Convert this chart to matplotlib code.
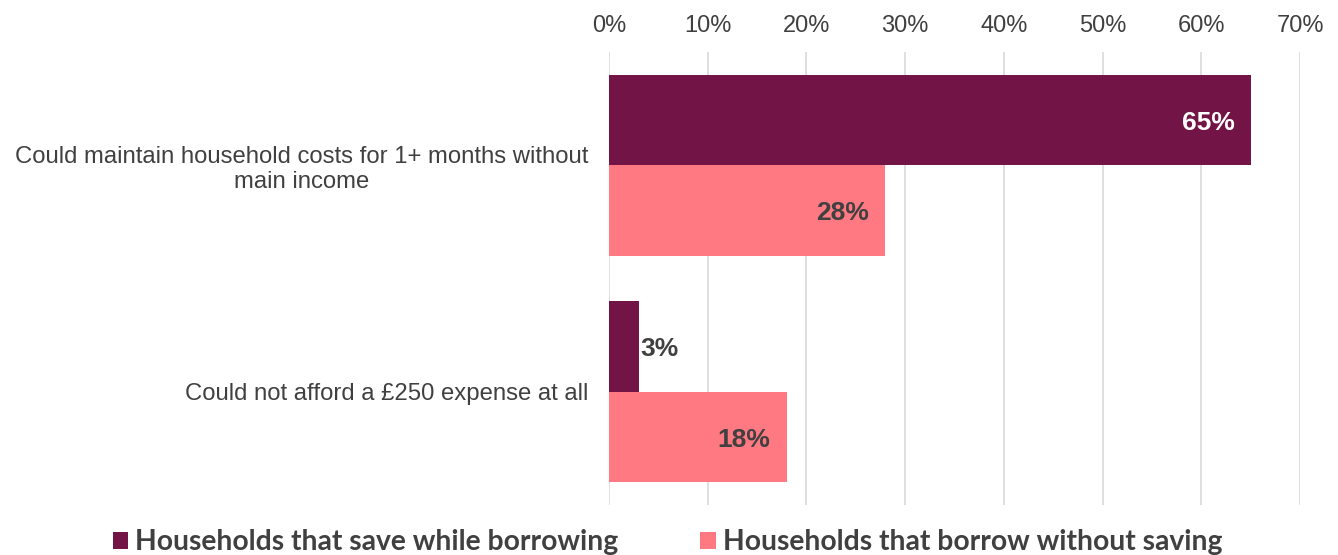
import matplotlib
matplotlib.use("Agg")
import matplotlib.pyplot as plt
from matplotlib.patches import Patch
import numpy as np

categories = [
    "Could maintain household costs for 1+ months without\nmain income",
    "Could not afford a £250 expense at all",
]
series_names = ["Households that save while borrowing",
                "Households that borrow without saving"]
save_borrow = [65, 3]
borrow_only = [28, 18]
x_ticks = [0, 10, 20, 30, 40, 50, 60, 70]

dark = "#731447"
pink = "#FF7983"
text_col = "#404040"

plt.rcParams["font.family"] = ["Liberation Sans", "DejaVu Sans"]

fig = plt.figure(figsize=(13.38, 5.55), dpi=100)
ax = fig.add_axes([0.4552, 0.0901, 0.5164, 0.8162])

y = np.arange(len(categories))
h = 0.4
b1 = ax.barh(y - h / 2, save_borrow, height=h, color=dark, zorder=3)
b2 = ax.barh(y + h / 2, borrow_only, height=h, color=pink, zorder=3)

ax.set_xlim(0, 70)
ax.set_ylim(1.5, -0.5)
ax.set_xticks(x_ticks)
ax.set_xticklabels([f"{t}%" for t in x_ticks], fontsize=17, color=text_col)
ax.xaxis.tick_top()
ax.tick_params(axis="x", length=0, pad=11)
ax.set_yticks(y)
ax.set_yticklabels(categories, fontsize=17.2, color=text_col,
                   multialignment="center", linespacing=1.2)
ax.tick_params(axis="y", length=0, pad=15)
ax.grid(axis="x", color="#D9D9D9", linewidth=1.2, zorder=0)
for s in ax.spines.values():
    s.set_visible(False)

# value labels, nudged slightly below the bar centre
lab_kw = dict(va="center", fontsize=19, fontweight="bold", zorder=4,
              textcoords="offset points")
for bar, v in zip(b1, save_borrow):
    cy = bar.get_y() + bar.get_height() / 2
    if v >= 10:
        ax.annotate(f"{v}%", (v, cy), xytext=(-11, -2), ha="right",
                    color="white", **lab_kw)
    else:
        ax.annotate(f"{v}%", (v, cy), xytext=(1, -2), ha="left",
                    color=text_col, **lab_kw)
for bar, v in zip(b2, borrow_only):
    cy = bar.get_y() + bar.get_height() / 2
    ax.annotate(f"{v}%", (v, cy), xytext=(-12, -2), ha="right",
                color=text_col, **lab_kw)

handles = [Patch(facecolor=dark), Patch(facecolor=pink)]
leg = fig.legend(handles, series_names, loc="center", bbox_to_anchor=(0.499, 0.023),
                 ncol=2, frameon=False, handlelength=0.55, handleheight=0.55,
                 handletextpad=0.25, columnspacing=2.9,
                 prop={"family": ["Lato", "DejaVu Sans"], "weight": "bold", "size": 20.3})
for t in leg.get_texts():
    t.set_color(text_col)

fig.savefig("out.png", dpi=100)
